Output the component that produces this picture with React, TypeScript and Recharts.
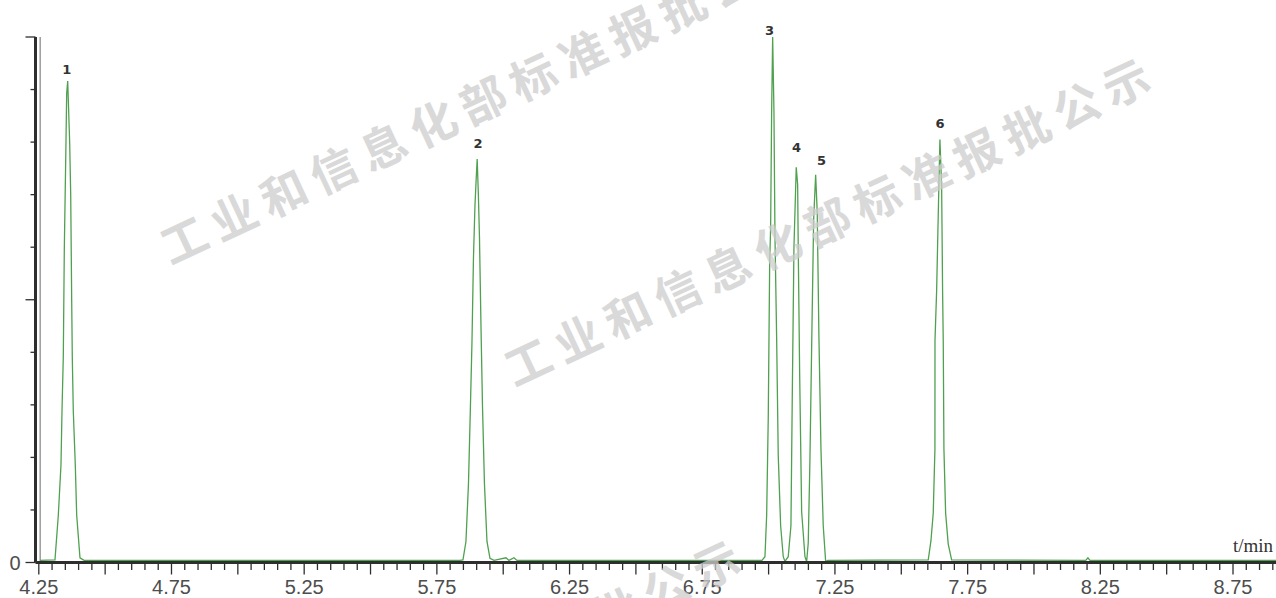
import { LineChart, Line, XAxis, YAxis, ReferenceLine, ReferenceDot } from 'recharts';

// retention time (min) and detector signal (% of full scale)
const timeMin = [
    4.2545, 4.3110, 4.3235, 4.3336, 4.3374, 4.3423, 4.3461, 4.3525, 4.3551, 4.3589,
    4.3612, 4.3664, 4.3702, 4.3740, 4.3762, 4.3800, 4.3875, 4.3928, 4.4052, 4.4203,
    5.8371, 5.8483, 5.8596, 5.8691, 5.8766, 5.8823, 5.8879, 5.8936, 5.8977, 5.9019,
    5.9064, 5.9105, 5.9162, 5.9218, 5.9293, 5.9388, 5.9501, 5.9652,
    6.0104, 6.0217, 6.0405, 6.0518,
    6.9750, 6.9863, 6.9927, 6.9987, 7.0040, 7.0077, 7.0115, 7.0153, 7.0202, 7.0239,
    7.0303, 7.0364, 7.0454, 7.0552, 7.0616,
    7.0740, 7.0842, 7.0891, 7.0955, 7.1042, 7.1095, 7.1117, 7.1170, 7.1245, 7.1370, 7.1434,
    7.1494, 7.1558, 7.1622, 7.1698, 7.1773, 7.1833, 7.1897, 7.1973, 7.2059, 7.2150, 7.2236,
    7.6016, 7.6117, 7.6204, 7.6268, 7.6270, 7.6332, 7.6419, 7.6456, 7.6520, 7.6558,
    7.6581, 7.6607, 7.6671, 7.6769, 7.6897,
    8.1950, 8.2033, 8.2110,
    8.9120,
];

const signal = [
    0.4, 0.5, 9.0, 18.6, 28.8, 39.1, 59.5, 80.2, 89.3, 91.6,
    88.0, 79.8, 70.1, 49.6, 39.1, 28.8, 18.6, 9.0, 0.9, 0.4,
    0.4, 0.5, 4.0, 15.0, 30.0, 42.0, 58.0, 68.0, 72.5, 76.8,
    70.0, 62.0, 45.0, 30.0, 15.0, 4.0, 0.8, 0.4,
    0.9, 0.4, 0.9, 0.4,
    0.4, 1.1, 9.0, 27.5, 56.7, 63.9, 85.8, 100.0, 85.8, 62.6,
    42.8, 20.3, 7.0, 1.1, 0.2,
    1.1, 7.0, 30.9, 59.9, 75.2, 71.9, 59.9, 36.1, 9.7, 1.1, 0.2,
    3.7, 19.6, 40.8, 65.3, 73.8, 66.6, 42.8, 21.6, 7.0, 0.2, 0.4,
    0.5, 4.1, 9.4, 21.6, 42.2, 51.7, 72.3, 80.5, 71.7, 51.1,
    42.2, 21.6, 9.4, 3.5, 0.5,
    0.4, 0.9, 0.4,
    0.4,
];

const peakNames = ['1', '2', '3', '4', '5', '6'];
const peakLabelTime = [4.3551, 5.9049, 7.0032, 7.1057, 7.1992, 7.6456];
const peakLabelLevel = [93.9, 79.7, 101.3, 78.9, 76.5, 83.5];

const xMin = 4.25;
const xMax = 8.912;
const xStep = 0.05;
const xTicks = Array.from({ length: 94 }, (_, i) => +(xMin + i * xStep).toFixed(2));
const yTicks = [0, 10, 20, 30, 40, 50, 60, 70, 80, 90, 100];

const watermark = '工业和信息化部标准报批公示';

const axisColor = '#2e2e2e';
const labelColor = '#4d4d4d';

function XTick(props: any) {
    const { x, y, payload } = props;
    const k = Math.round((payload.value - xMin) / xStep);
    const long = k % 5 === 0;
    return (
        <g>
            <line x1={x} x2={x} y1={y} y2={y + (long ? 12 : 7.5)} stroke={axisColor} strokeWidth={1.3} />
            {k % 10 === 0 && (
                <text x={x} y={y + 31} textAnchor="middle" fontSize={20} fill={labelColor}
                    fontFamily="'Liberation Sans', Arial, sans-serif">
                    {payload.value.toFixed(2)}
                </text>
            )}
        </g>
    );
}

function YTick(props: any) {
    const { x, y, payload } = props;
    const long = payload.value % 50 === 0;
    return (
        <g>
            <line x1={x - (long ? 10 : 5)} x2={x} y1={y} y2={y} stroke={axisColor} strokeWidth={1.3} />
            {payload.value === 0 && (
                <text x={x - 20.5} y={y + 7} textAnchor="middle" fontSize={20} fill={labelColor}
                    fontFamily="'Liberation Sans', Arial, sans-serif">
                    0
                </text>
            )}
        </g>
    );
}

export default function App() {
    const chartData = timeMin.map((t, i) => ({ t, v: signal[i] }));

    return (
        <div style={{ position: 'relative', width: 1276, height: 598, background: '#fff' }}>
            <style>{'body { margin: 0; }'}</style>
            <LineChart width={1276} height={598} data={chartData} margin={{ top: 37, right: 0, bottom: 0, left: 0 }}>
                <XAxis
                    type="number"
                    dataKey="t"
                    domain={[xMin, xMax]}
                    ticks={xTicks}
                    interval={0}
                    allowDataOverflow
                    height={35.5}
                    padding={{ left: 3.3, right: 0 }}
                    axisLine={{ stroke: axisColor, strokeWidth: 3 }}
                    tickLine={false}
                    tickSize={0}
                    tickMargin={0}
                    tick={(p: any) => <XTick {...p} />}
                />
                <YAxis
                    type="number"
                    domain={[0, 100]}
                    ticks={yTicks}
                    interval={0}
                    allowDataOverflow
                    width={35.5}
                    axisLine={{ stroke: axisColor, strokeWidth: 3 }}
                    tickLine={false}
                    tickSize={0}
                    tickMargin={0}
                    tick={(p: any) => <YTick {...p} />}
                />
                <ReferenceLine x={4.255} stroke="#6a6a6a" strokeWidth={1} ifOverflow="visible" />
                <Line
                    type="linear"
                    dataKey="v"
                    stroke="#4fa04f"
                    strokeWidth={1.3}
                    dot={false}
                    activeDot={false}
                    isAnimationActive={false}
                />
                {peakNames.map((name, i) => (
                    <ReferenceDot
                        key={name}
                        x={peakLabelTime[i]}
                        y={peakLabelLevel[i]}
                        r={0}
                        ifOverflow="visible"
                        shape={(p: any) => (
                            <text x={p.cx} y={p.cy + 4.5} textAnchor="middle" fontSize={13} fontWeight="bold"
                                fill="#333" fontFamily="'DejaVu Sans', Verdana, sans-serif">
                                {name}
                            </text>
                        )}
                    />
                ))}
            </LineChart>
            <svg width={1276} height={598} style={{ position: 'absolute', left: 0, top: 0, pointerEvents: 'none' }}>
                <text x={1273} y={552} textAnchor="end" fontSize={19} fill="#333"
                    fontFamily="'Liberation Serif', 'Times New Roman', serif">
                    t/min
                </text>
                {[[486, 96], [830, 218], [420, 700]].map(([cx, cy], i) => (
                    <text key={i} x={cx} y={cy} textAnchor="middle" dominantBaseline="central"
                        transform={`rotate(-25 ${cx} ${cy})`} fontSize={46} fontWeight="bold"
                        letterSpacing={9} fill="#cdcdcd" opacity={0.75}
                        fontFamily="'Noto Sans CJK SC', sans-serif">
                        {watermark}
                    </text>
                ))}
            </svg>
        </div>
    );
}
